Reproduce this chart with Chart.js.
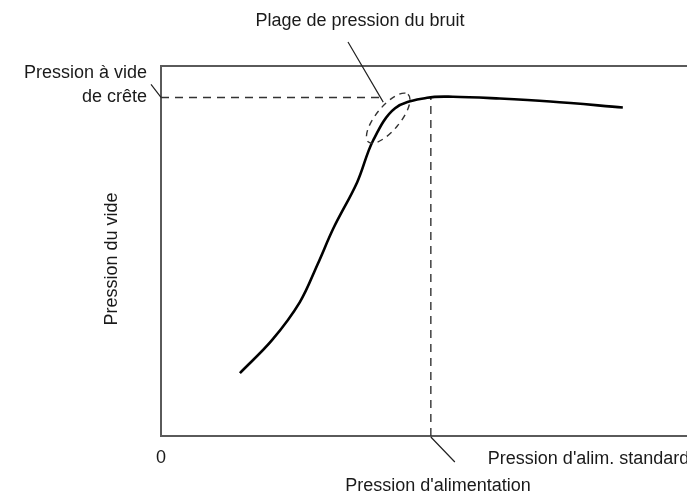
<!DOCTYPE html>
<html>
<head>
<meta charset="utf-8">
<script src="https://cdn.jsdelivr.net/npm/chart.js@4.4.0/dist/chart.umd.min.js"></script>
<style>
  html, body { margin: 0; padding: 0; background: #fff; overflow: hidden; }
  #wrap { width: 687px; height: 495px; position: relative; }
</style>
</head>
<body>
<div id="wrap"><canvas id="c" width="687" height="495"></canvas></div>
<script>
// ---- data ----
const curveX = [15.0, 21.1, 26.4, 29.8, 32.8, 37.3, 40.3, 44.5, 50.6, 55.5, 64.4, 74.0, 87.8];
const curveY = [17.0, 25.9, 36.2, 46.5, 56.2, 68.6, 79.8, 88.6, 91.4, 91.7, 91.2, 90.4, 88.8];
const peakY = 91.5;          // peak vacuum pressure
const peakLineEndX = 42.5;   // where the horizontal guide stops
const standardX = 51.3;      // standard supply pressure
const noiseCenter = [43.2, 85.9]; // noise pressure range (ellipse centre)
const xTickLabels = ['0'];
const labels = {
  title: 'Plage de pression du bruit',
  peak1: 'Pression à vide',
  peak2: 'de crête',
  standard: "Pression d'alim. standard",
  xAxis: "Pression d'alimentation",
  yAxis: 'Pression du vide'
};

const FONT = '18px "Liberation Sans", Arial, sans-serif';
const TEXT = '#1a1a1a';

const curve = curveX.map((x, i) => ({ x, y: curveY[i] }));

const decor = {
  id: 'decor',
  beforeDatasetsDraw(chart) {
    const { ctx, chartArea: a } = chart;
    ctx.save();
    ctx.strokeStyle = '#5a5a5a';
    ctx.lineWidth = 2;
    ctx.beginPath();
    ctx.moveTo(a.right + 2, a.top);
    ctx.lineTo(a.left, a.top);
    ctx.lineTo(a.left, a.bottom);
    ctx.lineTo(a.right + 2, a.bottom);
    ctx.stroke();
    ctx.restore();
  },
  afterDatasetsDraw(chart) {
    const { ctx, chartArea: a, scales: { x, y } } = chart;
    ctx.save();
    // noise ellipse
    const cx = x.getPixelForValue(noiseCenter[0]);
    const cy = y.getPixelForValue(noiseCenter[1]);
    ctx.strokeStyle = '#333';
    ctx.lineWidth = 1.4;
    ctx.setLineDash([6, 5]);
    ctx.beginPath();
    ctx.ellipse(cx, cy, 31, 12, -0.88, 0, Math.PI * 2);
    ctx.stroke();
    ctx.setLineDash([]);

    // leader lines
    ctx.strokeStyle = '#222';
    ctx.lineWidth = 1.2;
    ctx.beginPath();
    ctx.moveTo(348, 42); ctx.lineTo(cx - 5, cy - 16);
    const py = y.getPixelForValue(peakY);
    ctx.moveTo(151, py - 13); ctx.lineTo(a.left, py);
    const sx = x.getPixelForValue(standardX);
    ctx.moveTo(sx, a.bottom + 1); ctx.lineTo(sx + 24, a.bottom + 26);
    ctx.stroke();

    // text
    ctx.fillStyle = TEXT;
    ctx.font = FONT;
    ctx.textBaseline = 'middle';
    ctx.textAlign = 'center';
    ctx.fillText(labels.title, 360, 21);
    ctx.fillText(labels.xAxis, 438, 486);
    ctx.fillText(xTickLabels[0], x.getPixelForValue(0), a.bottom + 22);
    ctx.textAlign = 'right';
    ctx.fillText(labels.peak1, 147, py - 24);
    ctx.fillText(labels.peak2, 147, py);
    ctx.textAlign = 'left';
    ctx.fillText(labels.standard, sx + 57, a.bottom + 23);
    ctx.save();
    ctx.translate(112, 259);
    ctx.rotate(-Math.PI / 2);
    ctx.textAlign = 'center';
    ctx.fillText(labels.yAxis, 0, 0);
    ctx.restore();
    ctx.restore();
  }
};

new Chart(document.getElementById('c'), {
  type: 'line',
  data: {
    datasets: [
      {
        data: curve,
        borderColor: '#000',
        borderWidth: 2.6,
        tension: 0.35,
        pointRadius: 0,
        fill: false,
        clip: false
      },
      {
        data: [{ x: 0, y: peakY }, { x: peakLineEndX, y: peakY }],
        borderColor: '#333',
        borderWidth: 1.4,
        borderDash: [8, 6],
        pointRadius: 0,
        fill: false,
        clip: false
      },
      {
        data: [{ x: standardX, y: 0 }, { x: standardX, y: peakY }],
        borderColor: '#333',
        borderWidth: 1.4,
        borderDash: [8, 6],
        pointRadius: 0,
        fill: false,
        clip: false
      }
    ]
  },
  options: {
    responsive: false,
    animation: false,
    layout: { padding: { left: 161, top: 66, right: 0, bottom: 59 } },
    plugins: { legend: { display: false }, tooltip: { enabled: false } },
    scales: {
      x: { type: 'linear', min: 0, max: 100, display: false },
      y: { type: 'linear', min: 0, max: 100, display: false }
    }
  },
  plugins: [decor]
});
</script>
</body>
</html>
